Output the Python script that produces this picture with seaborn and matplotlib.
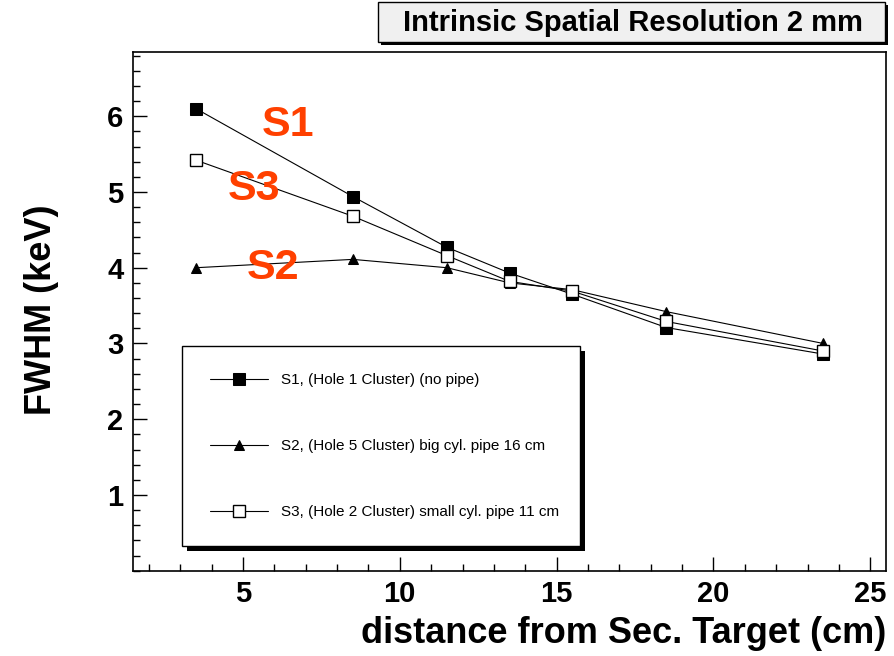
import matplotlib
matplotlib.use("Agg")
import pandas as pd
import seaborn as sns
from matplotlib import pyplot as plt
from matplotlib.patches import Rectangle
from matplotlib.ticker import MultipleLocator

# données
distance = [3.5, 8.5, 11.5, 13.5, 15.5, 18.5, 23.5]
fwhm_s1 = [6.10, 4.94, 4.27, 3.93, 3.65, 3.21, 2.86]
fwhm_s2 = [4.00, 4.11, 4.00, 3.80, 3.71, 3.42, 3.00]
fwhm_s3 = [5.42, 4.68, 4.16, 3.82, 3.69, 3.29, 2.90]

labels = ["S1, (Hole 1 Cluster) (no pipe)",
          "S2, (Hole 5 Cluster) big cyl. pipe 16 cm",
          "S3, (Hole 2 Cluster) small cyl. pipe 11 cm"]
tags = ["S1", "S2", "S3"]
tag_pos = [(6.45, 5.89), (5.95, 3.99), (5.35, 5.04)]

sns.set_theme(style="white")
plt.rcParams['font.family'] = ['Liberation Sans', 'DejaVu Sans']
plt.rcParams.update({"text.color": "black", "axes.labelcolor": "black",
                     "xtick.color": "black", "ytick.color": "black"})

fig = plt.figure(figsize=(8.94, 6.56), dpi=100)
ax = fig.add_axes([0.149, 0.130, 0.842, 0.791])

styles = [dict(marker="s", markersize=8, markerfacecolor="black", markeredgecolor="black"),
          dict(marker="^", markersize=7, markerfacecolor="black", markeredgecolor="black"),
          dict(marker="s", markersize=8, markerfacecolor="white", markeredgecolor="black",
               markeredgewidth=1.0)]

for values, label, st in zip([fwhm_s1, fwhm_s2, fwhm_s3], labels, styles):
    df = pd.DataFrame({"distance": distance, "fwhm": values})
    sns.lineplot(data=df, x="distance", y="fwhm", ax=ax, color="black", linewidth=0.8,
                 label=label, **st)

# étiquettes rouges
for tag, (tx, ty) in zip(tags, tag_pos):
    ax.text(tx, ty, tag, color="#ff4000", fontsize=31, fontweight="bold",
            ha="center", va="center")

ax.set_xlim(1.5, 25.5)
ax.set_ylim(0, 6.85)
ax.xaxis.set_major_locator(MultipleLocator(5))
ax.xaxis.set_minor_locator(MultipleLocator(1))
ax.yaxis.set_major_locator(MultipleLocator(1))
ax.yaxis.set_minor_locator(MultipleLocator(0.2))
ax.tick_params(which="both", direction="in", top=False, right=False, bottom=True, left=True,
               color="black", width=1.0)
ax.tick_params(which="major", length=10, labelsize=21, pad=7)
ax.tick_params(which="minor", length=5)
ax.set_yticks([1, 2, 3, 4, 5, 6])
for lab in ax.get_xticklabels() + ax.get_yticklabels():
    lab.set_fontweight("bold")
for sp in ax.spines.values():
    sp.set_color("black")
    sp.set_linewidth(1.2)

ax.set_xlabel("distance from Sec. Target (cm)", fontsize=26, fontweight="bold")
ax.set_ylabel("FWHM (keV)", fontsize=26, fontweight="bold")
ax.xaxis.set_label_coords(1.0, -0.088)
ax.xaxis.label.set_horizontalalignment("right")
ax.yaxis.set_label_coords(-0.098, 0.503)

# légende avec ombre
handles = ax.get_lines()[:3]
leg = ax.legend(handles=handles, labels=labels, loc="upper left",
                bbox_to_anchor=(0.065, 0.434, 0.529, 0.0), mode="expand",
                fontsize=11, frameon=True, fancybox=False, edgecolor="black",
                facecolor="white", framealpha=1.0,
                handlelength=3.8, handletextpad=0.85, labelspacing=3.4,
                borderpad=1.8, borderaxespad=0.0)
leg.get_frame().set_linewidth(1.0)
leg.set_zorder(5)
fig.canvas.draw()
bb = leg.get_window_extent().transformed(ax.transAxes.inverted())
sx, sy = 5 / (0.842 * 894), 5 / (0.791 * 656)
ax.add_patch(Rectangle((bb.x0 + sx, bb.y0 - sy), bb.width, bb.height, transform=ax.transAxes,
                       facecolor="black", edgecolor="none", clip_on=False, zorder=4.9))

# titre en boîte grise
fx, fy = 1 / 894, 1 / 656
fig.add_artist(Rectangle((381 * fx, (656 - 45) * fy), 507 * fx, 40 * fy, transform=fig.transFigure,
                         facecolor="black", edgecolor="none"))
fig.add_artist(Rectangle((378 * fx, (656 - 42) * fy), 507 * fx, 40 * fy, transform=fig.transFigure,
                         facecolor="#f0f0f0", edgecolor="black", linewidth=1.0))
fig.text(633 * fx, 1 - 23 * fy, "Intrinsic Spatial Resolution 2 mm", fontsize=21,
         fontweight="bold", ha="center", va="center")

fig.savefig("out.png", dpi=100)
